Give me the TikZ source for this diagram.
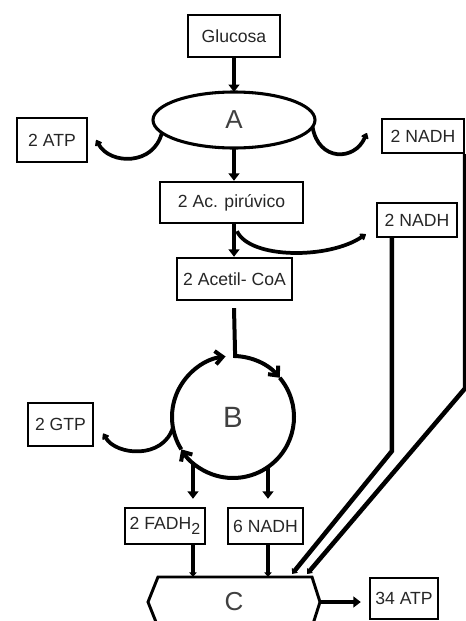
\documentclass[tikz,border=0pt]{standalone}
\usepackage{fontspec}
\setmainfont{Liberation Sans}
\usetikzlibrary{arrows.meta,calc,shapes.geometric}

\begin{document}
\begin{tikzpicture}[x=0.75pt,y=-0.75pt,
		box/.style={draw=black,line width=1.8pt,inner sep=0pt,text=black!85,font=\fontsize{13.2pt}{14pt}\selectfont},
		stage/.style={inner sep=0pt,outer sep=0pt,text=black!75,font=\fontsize{19.5pt}{20pt}\selectfont},
		flow/.style={line width=3.6pt,-{Triangle[length=5.5pt,width=8pt]}},
		hook/.style={line width=2.8pt,-{Triangle[length=4.5pt,width=6.5pt,round]}},
		ring/.style={line width=3pt,-{Straight Barb[length=5.5pt,width=10pt]}},
		feed/.style={line width=3pt,-{Triangle[length=3.5pt,width=5.5pt]}}]
	\useasboundingbox (0,0) rectangle (466,621);
	% glucolisis
	\node[box,minimum width=69pt,minimum height=31.5pt] (glu) at (234,36) {Glucosa};
	\node[stage,draw=black,ellipse,line width=2.3pt,minimum width=121.5pt,minimum height=42pt] (A) at (234,120) {A};
	\node[box,minimum width=52.5pt,minimum height=33pt] (atp) at (52,140) {2 ATP};
	\node[box,minimum width=61.5pt,minimum height=25.5pt] (nadhA) at (423,136) {2 NADH};
	\node[box,minimum width=107.25pt,minimum height=30.75pt] (pir) at (231.5,202.5) {2 Ac. pirúvico};
	\node[box,minimum width=60pt,minimum height=25.5pt] (nadhP) at (417,220) {2 NADH};
	\node[box,minimum width=86.25pt,minimum height=31.5pt] (acetil) at (234.5,279) {2 Acetil- CoA};
	% ciclo de Krebs
	\node[stage,circle,minimum size=91.5pt,font=\fontsize{22pt}{22pt}\selectfont] (B) at (233,417) {B};
	\node[box,minimum width=48.75pt,minimum height=32.25pt] (gtp) at (60.5,424.5) {2 GTP};
	\node[box,minimum width=60pt,minimum height=27pt] (fadh) at (165,526) {2 FADH\raisebox{-4pt}{\fontsize{12pt}{12pt}\selectfont 2}};
	\node[box,minimum width=56.25pt,minimum height=27pt] (nadhB) at (265.5,526) {6 NADH};
	% cadena respiratoria
	\node[stage,minimum width=129pt,minimum height=37.5pt] (C) at (234,602) {C};
	\node[box,minimum width=51pt,minimum height=30.75pt] (atp34) at (404,598.5) {34 ATP};
	\draw[line width=2.2pt] (C.west) -- ([xshift=7.5pt]C.north west) -- ([xshift=-6pt]C.north east) -- (C.east)
		-- ([xshift=-6pt]C.south east) -- ([xshift=7.5pt]C.south west) -- cycle;

	\draw[flow] (glu) -- (A);
	\draw[flow] (A.south) -- (A.south |- pir.north);
	\draw[flow] (A.south |- pir.south) -- (A.south |- acetil.north);
	\draw[hook] (A.190) .. controls +(-8,33) and +(14,25) .. ($(atp.east)+(8,0)$);
	\draw[hook] (A.355) .. controls +(6,35) and +(-12,28) .. ($(nadhA.west)+(-14,-3)$);
	\draw[hook] ($(pir.south)+(5.5,7)$) .. controls +(13,28) and +(-37,25) .. ($(nadhP.south west)+(-10,-4)$);

	\draw[ring] ($(acetil.south)+(-0.5,7)$) -- (B.88) arc[start angle=88,end angle=40,radius=45.75pt];
	\draw[ring] (B.40) arc[start angle=40,end angle=-148,radius=45.75pt];
	\draw[ring] (B.-148) arc[start angle=-148,end angle=-263,radius=45.75pt];
	\draw[hook] (B.190) .. controls +(-10,32) and +(13,22) .. ($(gtp.east)+(9,9)$);
	\draw[flow,shorten >=6pt] (B.229) -- (B.229 |- fadh.north);
	\draw[flow,shorten >=6pt] (B.305) -- (B.305 |- nadhB.north);

	\draw[feed] (B.229 |- fadh.south) -- (B.229 |- C.north);
	\draw[feed] (B.305 |- nadhB.south) -- (B.305 |- C.north);
	\draw[feed,line width=3.4pt] (nadhA.south east) -- ++(0,234) -- ($(C.north)+(73,-3)$);
	\draw[feed,line width=3.4pt] ($(nadhP.south west)+(16,0)$) -- ++(0,213) -- ($(C.north)+(58,-3)$);
	\draw[flow,shorten >=6pt] (C.east) -- (atp34.west |- C.east);
\end{tikzpicture}
\end{document}
